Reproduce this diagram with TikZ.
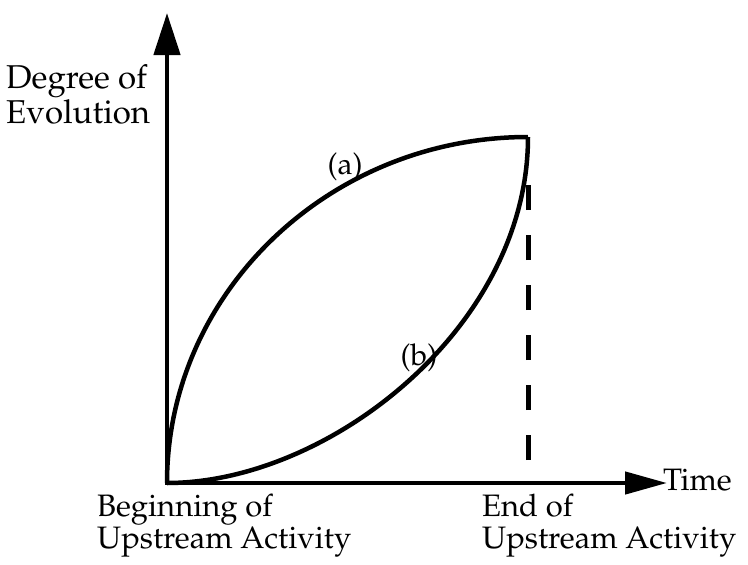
\documentclass[tikz,border=0pt]{standalone}
\usepackage[T1]{fontenc}
\renewcommand{\rmdefault}{ppl}
\usetikzlibrary{arrows.meta}

\begin{document}
\begin{tikzpicture}[
  x=1pt, y=-1pt,
  every node/.style={font=\fontsize{31}{32}\selectfont, inner sep=0pt},
  axis/.style={line width=4.5pt, line join=miter,
    {Triangle[length=42pt, width=26pt]}-{Triangle[length=42pt, width=22pt]}},
  curve/.style={line width=4.5pt},
  guide/.style={line width=5pt, dash pattern=on 25pt off 25pt},
  tag/.style={font=\fontsize{30}{32}\selectfont}
]
\useasboundingbox (0,0) rectangle (748,565);

% Axes
\coordinate (O) at (167,483);
\coordinate (ytip) at (167,13);
\coordinate (xtip) at (667,483);
\draw[axis] (ytip) -- (O) -- (xtip);
\node[anchor=base west, align=left, font=\fontsize{33}{32}\selectfont] (ylabel) at (6,123) {Degree of\\Evolution};
\node[anchor=base west] (xlabel) at (663,490) {Time};

% Curves (a) and (b)
\coordinate (E) at (528,137);
\draw[curve] (O) .. controls (167,293) and (329,137) .. (E);
\draw[curve] (O) .. controls (329,483) and (528,327) .. (E);
\node[tag] (la) at (345,167) {(a)};
\node[tag] (lb) at (419,358) {(b)};

% End of upstream activity
\coordinate (dtop) at (528,185);
\coordinate (dbot) at (528,460);
\draw[guide] (dbot) -- (dtop);

% Labels below the time axis
\node[anchor=base west, align=left] (startlabel) at (97,548) {Beginning of\\Upstream Activity};
\node[anchor=base west, align=left] (endlabel) at (482,548) {End of\\Upstream Activity};
\end{tikzpicture}
\end{document}
